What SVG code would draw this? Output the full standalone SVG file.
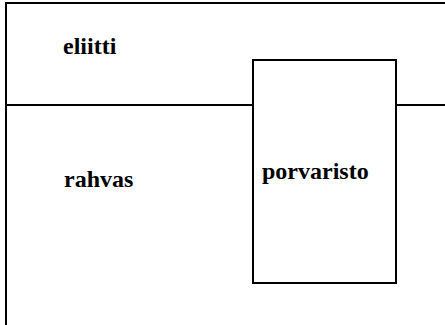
<svg xmlns="http://www.w3.org/2000/svg" width="445" height="325" viewBox="0 0 445 325">
<style>
.ln{stroke:#000;stroke-width:2;fill:none}
.t{font-family:"Liberation Serif","Times New Roman",serif;font-weight:bold;font-size:24px;fill:#000}
</style>
<rect width="445" height="325" fill="#fff"/>
<g id="frame">
<path class="ln" d="M6,330 V3 H450"/>
</g>
<g id="connectors">
<line class="ln" x1="6" y1="105" x2="253" y2="105"/>
<line class="ln" x1="396" y1="105" x2="450" y2="105"/>
</g>
<g id="eliitti"><text class="t" x="63" y="54">eliitti</text></g>
<g id="rahvas"><text class="t" x="64" y="187">rahvas</text></g>
<g id="porvaristo">
<rect class="ln" x="253" y="60" width="143" height="223"/>
<text class="t" x="262" y="179">porvaristo</text>
</g>
</svg>
